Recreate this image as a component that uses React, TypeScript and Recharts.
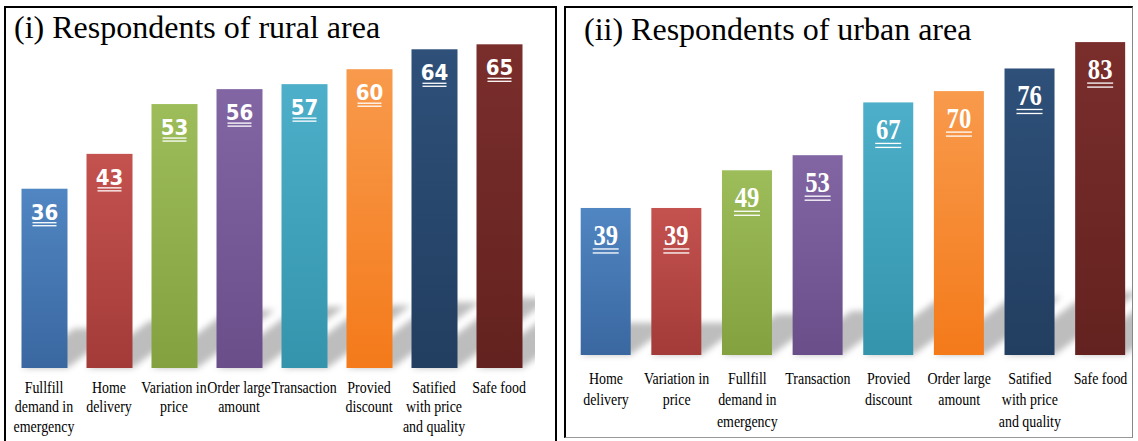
import React from "react";
import { BarChart, Bar, XAxis, YAxis, Cell, LabelList } from "recharts";

const ruralCategories = [
  "Fullfill\ndemand in\nemergency",
  "Home\ndelivery",
  "Variation in\nprice",
  "Order large\namount",
  "Transaction",
  "Provied\ndiscount",
  "Satified\nwith price\nand quality",
  "Safe food",
];
const ruralValues = [36, 43, 53, 56, 57, 60, 64, 65];

const urbanCategories = [
  "Home\ndelivery",
  "Variation in\nprice",
  "Fullfill\ndemand in\nemergency",
  "Transaction",
  "Provied\ndiscount",
  "Order large\namount",
  "Satified\nwith price\nand quality",
  "Safe food",
];
const urbanValues = [39, 39, 49, 53, 67, 70, 76, 83];

// top / bottom colours of each bar gradient (same order in both panels)
const barColors = [
  ["#5086C2", "#3A67A0"],
  ["#C4524F", "#A33B38"],
  ["#9DBD5A", "#83A23F"],
  ["#8266A4", "#6A4E8A"],
  ["#4DAFC9", "#3494AC"],
  ["#F89A4C", "#F47A1A"],
  ["#2E5079", "#223E60"],
  ["#7A2E2C", "#63221F"],
];

const rural = ruralCategories.map((name, i) => ({ name, value: ruralValues[i] }));
const urban = urbanCategories.map((name, i) => ({ name, value: urbanValues[i] }));

const SERIF = '"Liberation Serif", "Times New Roman", serif';
const NARROW = '"Liberation Sans Narrow", "DejaVu Sans Condensed", "Arial Narrow", sans-serif';

const makeBarShape = (id: string) => (props: any) => {
  const { x, y, width, height, fill } = props;
  const base = y + height;
  const dy = height * 0.22;
  const dx = dy / 0.75;
  const pts = `${x},${base} ${x + width},${base} ${x + width + dx},${base - dy} ${x + dx},${base - dy}`;
  return (
    <g>
      <polygon
        points={pts}
        fill="#000"
        fillOpacity={0.26}
        filter={`url(#${id}-blur)`}
        clipPath={`url(#${id}-clip)`}
      />
      <rect x={x} y={y} width={width} height={height} fill={fill} />
    </g>
  );
};

const makeTick = (lineGap: number, firstDy: number) => (props: any) => {
  const { x, y, payload } = props;
  const lines = String(payload.value).split("\n");
  return (
    <g transform={`translate(${x},${y}) scale(0.87,1)`}>
      <text textAnchor="middle" fill="#000" style={{ fontFamily: SERIF, fontSize: 16 }}>
        {lines.map((l, i) => (
          <tspan key={i} x={0} y={firstDy + i * lineGap} style={{ fontFamily: SERIF }}>
            {l}
          </tspan>
        ))}
      </text>
    </g>
  );
};

const ruralLabel = (props: any) => {
  const { x, y, width, value } = props;
  const cx = x + width / 2;
  return (
    <g>
      <text
        x={cx}
        y={y + 31}
        textAnchor="middle"
        fill="#fff"
        style={{ fontFamily: NARROW, fontWeight: "bold", fontSize: 22 }}
      >
        {value}
      </text>
      <line x1={cx - 12} x2={cx + 12} y1={y + 34} y2={y + 34} stroke="#fff" strokeWidth={1.3} />
      <line x1={cx - 12} x2={cx + 12} y1={y + 37} y2={y + 37} stroke="#fff" strokeWidth={1.3} />
    </g>
  );
};

const urbanLabel = (props: any) => {
  const { x, y, width, value } = props;
  const cx = x + width / 2;
  return (
    <g>
      <g transform={`translate(${cx},${y + 37}) scale(0.85,1)`}>
        <text x={0} y={0} textAnchor="middle" fill="#fff" style={{ fontFamily: SERIF, fontWeight: "bold", fontSize: 29 }}>
          {value}
        </text>
      </g>
      <line x1={cx - 13} x2={cx + 13} y1={y + 41} y2={y + 41} stroke="#fff" strokeWidth={1.3} />
      <line x1={cx - 13} x2={cx + 13} y1={y + 45} y2={y + 45} stroke="#fff" strokeWidth={1.3} />
    </g>
  );
};

const Gradients = ({ id }: { id: string }) => (
  <>
    {barColors.map(([top, bottom], i) => (
      <linearGradient key={i} id={`${id}-g${i}`} x1="0" y1="0" x2="0" y2="1">
        <stop offset="0%" stopColor={top} />
        <stop offset="100%" stopColor={bottom} />
      </linearGradient>
    ))}
    <filter id={`${id}-blur`} x="-20%" y="-20%" width="140%" height="140%">
      <feGaussianBlur stdDeviation={3} />
    </filter>
  </>
);

export default function App() {
  return (
    <div style={{ position: "absolute", left: 0, top: 0, width: 1138, height: 441, background: "#fff", overflow: "hidden" }}>
      {/* panel frames */}
      <div style={{ position: "absolute", left: 4, top: 6, width: 553, height: 460, border: "2px solid #000", boxSizing: "border-box" }} />
      <div
        style={{
          position: "absolute",
          left: 564,
          top: 6,
          width: 569,
          height: 432,
          borderLeft: "2px solid #000",
          borderTop: "2px solid #000",
          borderRight: "1px solid #888",
          borderBottom: "1px solid #999",
          boxSizing: "border-box",
        }}
      />
      <div style={{ position: "absolute", left: 14, top: 8, fontFamily: SERIF, fontSize: 32, lineHeight: "38px", color: "#000" }}>
        (i) Respondents of rural area
      </div>
      <div style={{ position: "absolute", left: 584, top: 10, fontFamily: SERIF, fontSize: 32, lineHeight: "38px", color: "#000" }}>
        (ii) Respondents of urban area
      </div>

      <div style={{ position: "absolute", left: 0, top: 0 }}>
        <BarChart width={560} height={441} data={rural} margin={{ top: 19.4, right: 28.5, left: 11.5, bottom: 0 }} barSize={46}>
          <defs>
            <Gradients id="rural" />
            <clipPath id="rural-clip">
              <rect x={0} y={0} width={535} height={441} />
            </clipPath>
          </defs>
          <XAxis
            dataKey="name"
            interval={0}
            axisLine={false}
            tickLine={false}
            tickSize={0}
            tickMargin={0}
            height={73}
            tick={makeTick(19.5, 25)}
          />
          <YAxis hide domain={[0, 70]} />
          <Bar dataKey="value" isAnimationActive={false} shape={makeBarShape("rural")}>
            {rural.map((_, i) => (
              <Cell key={i} fill={`url(#rural-g${i})`} />
            ))}
            <LabelList dataKey="value" content={ruralLabel} />
          </Bar>
        </BarChart>
      </div>

      <div style={{ position: "absolute", left: 560, top: 0 }}>
        <BarChart width={578} height={441} data={urban} margin={{ top: 15.7, right: 2.2, left: 10.7, bottom: 0 }} barSize={50}>
          <defs>
            <Gradients id="urban" />
            <clipPath id="urban-clip">
              <rect x={0} y={0} width={572} height={441} />
            </clipPath>
          </defs>
          <XAxis
            dataKey="name"
            interval={0}
            axisLine={false}
            tickLine={false}
            tickSize={0}
            tickMargin={0}
            height={86}
            tick={makeTick(21.5, 29)}
          />
          <YAxis hide domain={[0, 90]} />
          <Bar dataKey="value" isAnimationActive={false} shape={makeBarShape("urban")}>
            {urban.map((_, i) => (
              <Cell key={i} fill={`url(#urban-g${i})`} />
            ))}
            <LabelList dataKey="value" content={urbanLabel} />
          </Bar>
        </BarChart>
      </div>
    </div>
  );
}
